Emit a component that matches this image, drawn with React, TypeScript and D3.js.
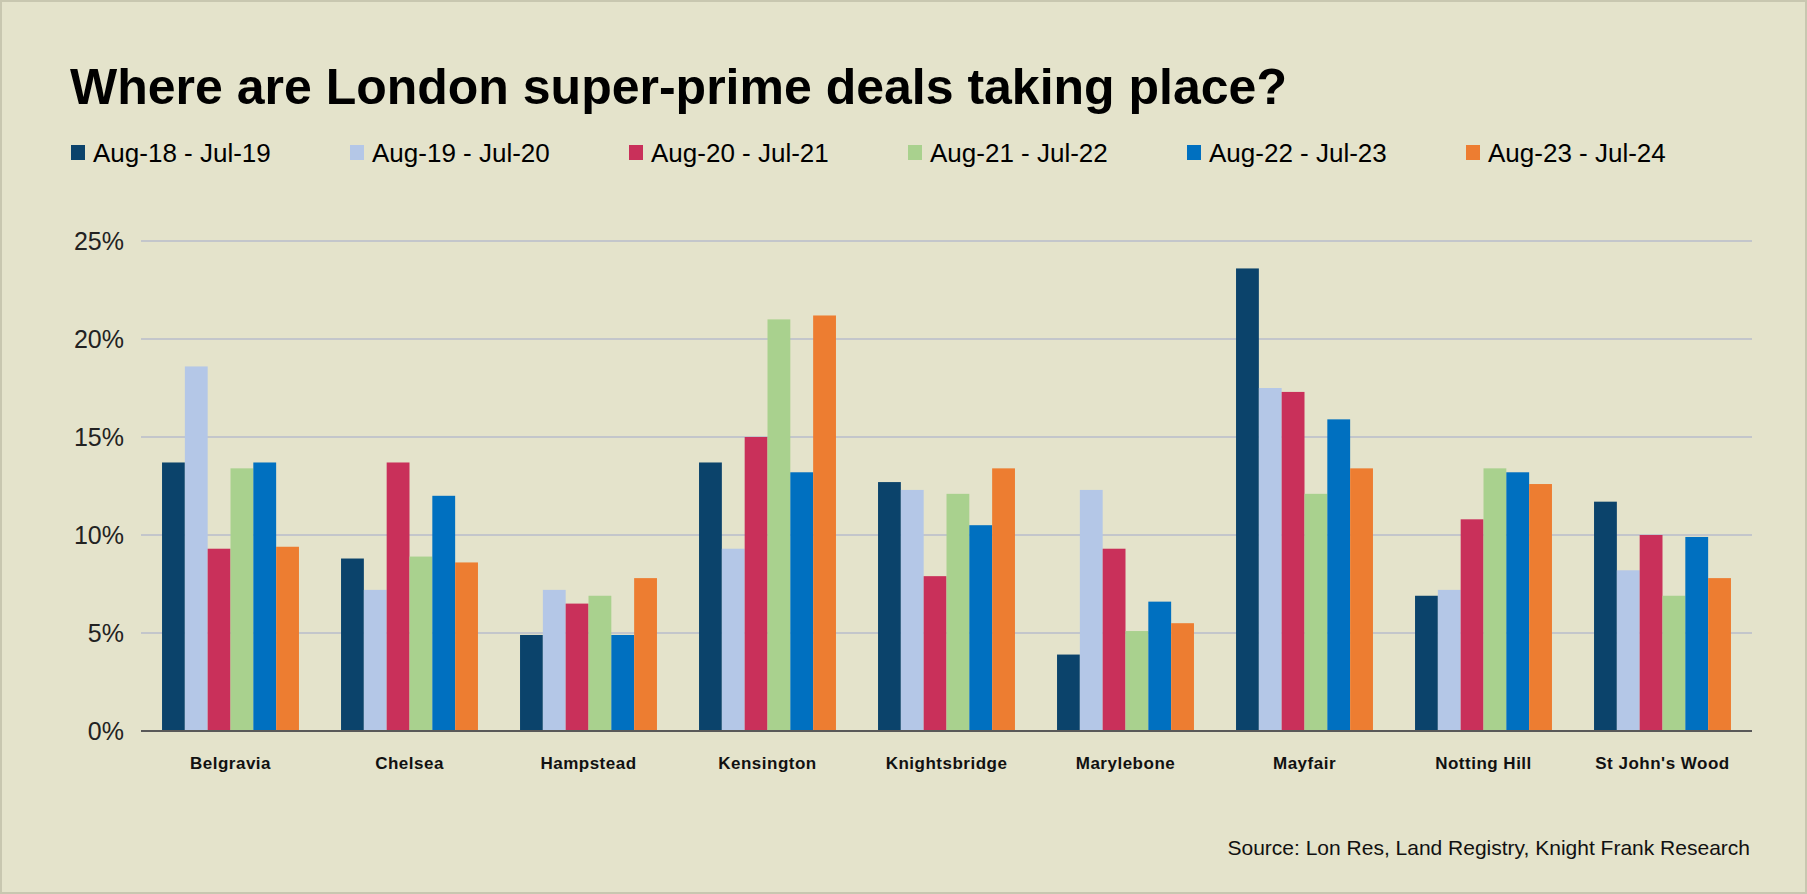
import React from "react";
import * as d3 from "d3";

const categories = ["Belgravia","Chelsea","Hampstead","Kensington","Knightsbridge","Marylebone","Mayfair","Notting Hill","St John's Wood"];
const seriesNames = ["Aug-18 - Jul-19","Aug-19 - Jul-20","Aug-20 - Jul-21","Aug-21 - Jul-22","Aug-22 - Jul-23","Aug-23 - Jul-24"];
const seriesColors = ["#0B436B","#B4C7E7","#C9305A","#A9D18E","#0070C0","#ED7D31"];
const s1 = [13.7, 8.8, 4.9, 13.7, 12.7, 3.9, 23.6, 6.9, 11.7];
const s2 = [18.6, 7.2, 7.2, 9.3, 12.3, 12.3, 17.5, 7.2, 8.2];
const s3 = [9.3, 13.7, 6.5, 15.0, 7.9, 9.3, 17.3, 10.8, 10.0];
const s4 = [13.4, 8.9, 6.9, 21.0, 12.1, 5.1, 12.1, 13.4, 6.9];
const s5 = [13.7, 12.0, 4.9, 13.2, 10.5, 6.6, 15.9, 13.2, 9.9];
const s6 = [9.4, 8.6, 7.8, 21.2, 13.4, 5.5, 13.4, 12.6, 7.8];
const series = [s1, s2, s3, s4, s5, s6];
const yTicks = [0, 5, 10, 15, 20, 25];

const W = 1807, H = 894;
const L = 141, R = 1752, T = 241, B = 731;

export default function App() {
  const x = d3.scaleBand().domain(categories).range([L, R]).paddingInner(0.235).paddingOuter(0.1175);
  const xs = d3.scaleBand().domain(seriesNames).range([0, x.bandwidth()]);
  const y = d3.scaleLinear().domain([0, 25]).range([B, T]);
  const font = "Arial, 'Liberation Sans', sans-serif";
  return (
    <svg width={W} height={H} style={{ position: "absolute", left: 0, top: 0 }} fontFamily={font}>
      <rect x={0} y={0} width={W} height={H} fill="#E4E3CB" />
      <rect x={1} y={1} width={W - 2} height={H - 2} fill="none" stroke="#C8C7B0" strokeWidth={2} />
      <text x={70} y={104} fontSize={50} fontWeight="bold" fill="#000">Where are London super-prime deals taking place?</text>
      {seriesNames.map((n, i) => (
        <g key={n} transform={`translate(${71 + i * 279},153)`}>
          <rect x={0} y={-8} width={14} height={15} fill={seriesColors[i]} />
          <text x={22} y={9} fontSize={26} fill="#000">{n}</text>
        </g>
      ))}
      {yTicks.map(t => (
        <g key={t}>
          {t > 0 && <line x1={L} x2={R} y1={y(t)} y2={y(t)} stroke="#C3C6CB" strokeWidth={2} />}
          <text x={124} y={y(t) + 9} fontSize={25} textAnchor="end" fill="#222">{t}%</text>
        </g>
      ))}
      {categories.map((c, ci) => (
        <g key={c}>
          {series.map((s, si) => (
            <rect key={si} x={(x(c) as number) + (xs(seriesNames[si]) as number)} width={xs.bandwidth()}
              y={y(s[ci])} height={B - y(s[ci])} fill={seriesColors[si]} />
          ))}
          <text x={(x(c) as number) + x.bandwidth() / 2} y={769} fontSize={17} fontWeight="bold" textAnchor="middle" fill="#111" letterSpacing={0.5}>{c}</text>
        </g>
      ))}
      <line x1={L} x2={R} y1={B} y2={B} stroke="#595959" strokeWidth={2} />
      <text x={1750} y={855} fontSize={21} textAnchor="end" fill="#111">Source: Lon Res, Land Registry, Knight Frank Research</text>
    </svg>
  );
}
